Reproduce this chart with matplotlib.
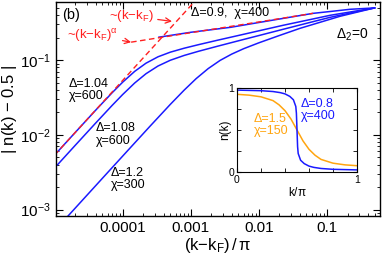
import matplotlib
matplotlib.use("Agg")
import matplotlib.pyplot as plt

plt.rcParams['font.family'] = ['Liberation Sans', 'DejaVu Sans']
plt.rcParams['mathtext.fontset'] = 'custom'
plt.rcParams['mathtext.rm'] = 'Liberation Sans'
plt.rcParams['mathtext.it'] = 'Liberation Sans:italic'
plt.rcParams['mathtext.sf'] = 'Liberation Sans'
plt.rcParams['mathtext.default'] = 'regular'

# ---- main panel data: |n(k)-0.5| vs (k-kF)/pi ----
x_d09 = [3.41e-4, 1e-3, 3.84e-3, 0.01, 0.03, 0.0625, 0.12, 0.217, 0.35, 0.5]
y_d09 = [0.203, 0.236, 0.275, 0.319, 0.378, 0.423, 0.451, 0.479, 0.491, 0.5]

x_d104 = [1.1e-5, 2e-5, 4e-5, 7e-5, 1e-4, 1.5e-4, 2.2e-4, 3.3e-4, 5e-4, 8e-4, 1.3e-3,
          2.48e-3, 5e-3, 0.01, 0.0228, 0.05, 0.111, 0.25, 0.5]
y_d104 = [0.00589, 0.0107, 0.0213, 0.0366, 0.0507, 0.0707, 0.091, 0.1108, 0.1278, 0.1444, 0.1611,
          0.1849, 0.2138, 0.247, 0.293, 0.341, 0.398, 0.450, 0.5]

x_d108 = [1.1e-5, 2e-5, 4e-5, 7e-5, 1e-4, 1.5e-4, 2.2e-4, 3.3e-4, 5e-4, 8e-4, 1.3e-3,
          2.48e-3, 5e-3, 0.01, 0.0228, 0.05, 0.111, 0.25, 0.5]
y_d108 = [0.00396, 0.0072, 0.01433, 0.02477, 0.03465, 0.0494, 0.0658, 0.0834, 0.0996, 0.1156, 0.1314,
          0.1537, 0.1814, 0.2134, 0.259, 0.311, 0.374, 0.4377, 0.5]

x_d12 = [1.4e-5, 3e-5, 6e-5, 1.2e-4, 2.5e-4, 5e-4, 8e-4, 1.2e-3, 1.8e-3, 2.7e-3, 4e-3, 6e-3,
         0.01, 0.02, 0.0404, 0.08, 0.155, 0.3, 0.5]
y_d12 = [7.28e-4, 1.56e-3, 3.12e-3, 6.23e-3, 0.01294, 0.02554, 0.0397, 0.0566, 0.077, 0.0993, 0.1206, 0.1425,
         0.1706, 0.2137, 0.267, 0.322, 0.386, 0.4467, 0.5]

# fits
x_lin = [1.0e-5, 1.2e-3]
y_lin = [0.00535, 0.642]
x_alpha = [1.33e-4, 0.0625]
y_alpha = [0.174, 0.423]

# ---- inset data: n(k) vs k/pi ----
k_b = [0, 0.2, 0.3, 0.36, 0.40, 0.44, 0.47, 0.49, 0.495, 0.5, 0.505, 0.51, 0.53, 0.56, 0.60, 0.64, 0.7, 0.8, 1.0]
n_b = [0.975, 0.968, 0.958, 0.945, 0.93, 0.9, 0.86, 0.78, 0.7, 0.5, 0.3, 0.22, 0.14, 0.1, 0.07, 0.055, 0.042, 0.032, 0.025]
k_o = [0, 0.1, 0.2, 0.3, 0.35, 0.4, 0.45, 0.5, 0.55, 0.6, 0.65, 0.7, 0.8, 0.9, 1.0]
n_o = [0.925, 0.915, 0.895, 0.85, 0.8, 0.73, 0.63, 0.5, 0.37, 0.27, 0.2, 0.15, 0.105, 0.085, 0.075]

xticks = [1e-4, 1e-3, 1e-2, 1e-1]
xticklabels = ['0.0001', '0.001', '0.01', '0.1']
yticks = [1e-3, 1e-2, 1e-1]
yticklabels = [r'$10^{-3}$', r'$10^{-2}$', r'$10^{-1}$']

BLUE = '#1a1aff'
RED = '#ff2020'
ORANGE = '#ffa510'

fig = plt.figure(figsize=(3.82, 2.57), dpi=100)
ax = fig.add_axes([56/382, 1-216/257, 324/382, 214/257])
ax.set_xscale('log')
ax.set_yscale('log')
ax.set_xlim(1.05e-5, 0.6)
ax.set_ylim(8.2e-4, 0.6)

lw = 1.1
for xs, ys in [(x_d104, y_d104), (x_d108, y_d108), (x_d12, y_d12), (x_d09, y_d09)]:
    ax.plot(xs, ys, color=BLUE, lw=lw)
ax.plot(x_lin, y_lin, color=RED, lw=1.0, ls=(0, (4, 2.5)))
ax.plot(x_alpha, y_alpha, color=RED, lw=1.0, ls=(0, (4, 2.5)))

ax.set_xticks(xticks)
ax.set_xticklabels(xticklabels)
ax.set_yticks(yticks)
ax.set_yticklabels(yticklabels)
ax.tick_params(which='both', direction='in', top=True, right=True, labelsize=11)
ax.tick_params(which='major', length=5, width=0.8)
ax.tick_params(which='minor', length=2.5, width=0.6)
for s in ax.spines.values():
    s.set_linewidth(1.0)

ax.set_xlabel(r'(k$-$k$_{\rm F}$)$\,$/$\,\pi$', fontsize=12, labelpad=1)
ax.set_ylabel(r'| n(k) $-$ 0.5 |', fontsize=12, labelpad=1)

ax.text(0.018, 0.94, '(b)', transform=ax.transAxes, fontsize=10.5, va='center', ha='left')
ax.annotate(r'~(k$-$k$_{\rm F}$)', xy=(5.3e-4, 0.33), xytext=(0.232, 0.935),
            textcoords='axes fraction', color=RED, fontsize=9.5, ha='center', va='center',
            arrowprops=dict(arrowstyle='->', color=RED, lw=0.9, shrinkA=1, shrinkB=0))
ax.annotate(r'~(k$-$k$_{\rm F}$)$^{\alpha}$', xy=(x_alpha[0], y_alpha[0]), xytext=(0.114, 0.845),
            textcoords='axes fraction', color=RED, fontsize=9.5, ha='center', va='center',
            arrowprops=dict(arrowstyle='->', color=RED, lw=0.9, shrinkA=1, shrinkB=0))
ax.text(0.537, 0.949, 'Δ=0.9,  χ=400', transform=ax.transAxes, fontsize=9, ha='center', va='center')
ax.text(0.914, 0.846, 'Δ$_2$=0', transform=ax.transAxes, fontsize=10, ha='center', va='center')
ax.text(0.040, 0.645, 'Δ=1.04\nχ=600', transform=ax.transAxes, fontsize=9, ha='left', va='top', linespacing=1.05)
ax.text(0.123, 0.439, 'Δ=1.08\nχ=600', transform=ax.transAxes, fontsize=9, ha='left', va='top', linespacing=1.05)
ax.text(0.170, 0.229, 'Δ=1.2\nχ=300', transform=ax.transAxes, fontsize=9, ha='left', va='top', linespacing=1.05)

# ---- inset ----
ins = fig.add_axes([237/382, 1-172/257, 120/382, 84/257])
ins.plot(k_o, n_o, color=ORANGE, lw=1.1)
ins.plot(k_b, n_b, color=BLUE, lw=1.1)
ins.set_xlim(0, 1)
ins.set_ylim(0, 1)
ins.set_xticks([0, 1])
ins.set_yticks([0, 1])
ins.set_xticks([0.2, 0.4, 0.6, 0.8], minor=True)
ins.set_yticks([0.25, 0.5, 0.75], minor=True)
ins.tick_params(which='both', direction='in', top=True, right=True, labelsize=7.5, pad=2)
ins.tick_params(which='major', length=3)
ins.tick_params(which='minor', length=3)
ins.set_xlabel(r'k/$\pi$', fontsize=8.5, labelpad=1)
ins.set_ylabel('n(k)', fontsize=8.5, labelpad=-2)
ins.text(0.53, 0.88, 'Δ=0.8\nχ=400', transform=ins.transAxes, color=BLUE, fontsize=9,
         ha='left', va='top', linespacing=1.0)
ins.text(0.14, 0.7, 'Δ=1.5\nχ=150', transform=ins.transAxes, color=ORANGE, fontsize=9,
         ha='left', va='top', linespacing=1.0)

fig.savefig('out.png', dpi=100)
